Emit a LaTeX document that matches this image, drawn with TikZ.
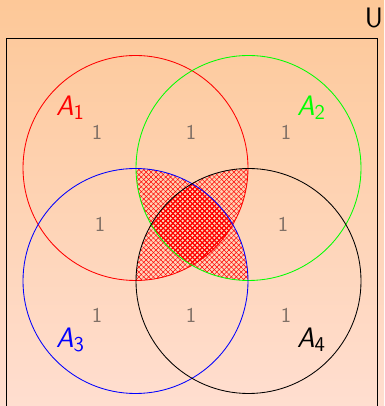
\documentclass[tikz,border=0pt]{standalone}
\usepackage{tikz}
\usetikzlibrary{patterns.meta, positioning}
\definecolor{bgtop}{RGB}{253,200,152}
\definecolor{bgbottom}{RGB}{255,222,208}
\definecolor{countgray}{RGB}{128,112,102}
\newcommand{\setname}[2]{\textsl{#1}\raisebox{-0.35ex}{\fontsize{15}{18}\selectfont #2}}

\begin{document}
\begin{tikzpicture}[
  x=0.025cm, y=0.025cm,
  universe/.style = {draw=black, line width=0.5pt},
  setline/.style  = {line width=0.6pt},
  setlabel/.style = {font=\fontsize{20}{24}\selectfont\sffamily, inner sep=0pt},
  count/.style    = {font=\fontsize{15}{18}\selectfont\sffamily, text=countgray, inner sep=0pt},
  hatchup/.style  = {pattern={Lines[angle=45, distance=2.45pt, line width=0.35pt]}, pattern color=red},
  hatchdn/.style  = {pattern={Lines[angle=-45, distance=2.45pt, line width=0.35pt]}, pattern color=red},
  thickup/.style  = {pattern={Lines[angle=45, distance=2.45pt, line width=0.8pt]}, pattern color=red},
  thickdn/.style  = {pattern={Lines[angle=-45, distance=2.45pt, line width=0.8pt]}, pattern color=red},
]

%% ==================== BACKGROUND ====================
\useasboundingbox (0,0) rectangle (384,406);
\shade[top color=bgtop, bottom color=bgbottom] (0,0) rectangle (384,406);

%% ==================== UNIVERSE ====================
\draw[universe] (6.5,-5) rectangle (377.5,367.5);
\node[setlabel] (U) at (374,388) {U};

%% Circle centres
\def\r{112.5}
\coordinate (cA) at (135.5,238);
\coordinate (cB) at (248.5,238);
\coordinate (cC) at (135.5,125);
\coordinate (cD) at (248.5,125);

%% ==================== HATCHED LENSES ====================
\begin{scope}
  \clip (cA) circle[radius=\r];
  \fill[hatchup] (cD) circle[radius=\r];
  \fill[hatchdn] (cD) circle[radius=\r];
\end{scope}
\begin{scope}
  \clip (cB) circle[radius=\r];
  \fill[hatchup] (cC) circle[radius=\r];
  \fill[hatchdn] (cC) circle[radius=\r];
\end{scope}
%% centre: all four sets
\begin{scope}
  \clip (cA) circle[radius=\r];
  \clip (cB) circle[radius=\r];
  \clip (cD) circle[radius=\r];
  \fill[thickup] (cC) circle[radius=\r];
  \fill[thickdn] (cC) circle[radius=\r];
\end{scope}

%% ==================== SETS ====================
\draw[setline, red]   (cA) circle[radius=\r];
\draw[setline, green] (cB) circle[radius=\r];
\draw[setline, blue]  (cC) circle[radius=\r];
\draw[setline, black] (cD) circle[radius=\r];

\node[setlabel, text=red]   (A1) at (70,298) {\setname{A}{1}};
\node[setlabel, text=green] (A2) at (311,298) {\setname{A}{2}};
\node[setlabel, text=blue]  (A3) at (70,66)  {\setname{A}{3}};
\node[setlabel, text=black] (A4) at (311,66) {\setname{A}{4}};

%% Region counts
\node[count] (n1)  at (97,274)  {1};
\node[count] (n12) at (191,274) {1};
\node[count] (n2)  at (286,274) {1};
\node[count] (n13) at (100,182) {1};
\node[count] (n24) at (283,182) {1};
\node[count] (n3)  at (97,91)   {1};
\node[count] (n34) at (191,91)  {1};
\node[count] (n4)  at (286,91)  {1};

\end{tikzpicture}
\end{document}
